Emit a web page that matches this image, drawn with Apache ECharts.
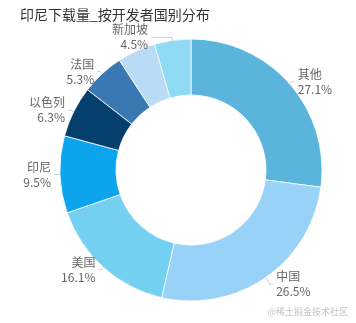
<!DOCTYPE html>
<html>
<head>
<meta charset="utf-8">
<script src="https://cdn.jsdelivr.net/npm/echarts@6/dist/echarts.min.js"></script>
<style>
  html, body { margin: 0; padding: 0; background: #fff; }
  #chart { width: 356px; height: 323px; }
</style>
</head>
<body>
<div id="chart"></div>
<script>
// Share of downloads in Indonesia by developer country (percent)
const countries = ['其他', '中国', '美国', '印尼', '以色列', '法国', '', '新加坡'];
const shares = [27.1, 26.5, 16.1, 9.5, 6.3, 5.3, 4.7, 4.5];
const colors = ['#5AB4DC', '#98D2F6', '#74D0F1', '#0CA4EC', '#053F6E', '#3A78B4', '#B9DBF5', '#8FDBF3'];

// a few labels get a longer leader line so they sit clear of their neighbours
const leaderOverrides = {
  '新加坡': { length2: 21 },
  '中国': { length: 8 }
};

const chart = echarts.init(document.getElementById('chart'), null, { renderer: 'canvas' });

const data = countries.map((name, i) => {
  const item = { name: name, value: shares[i], itemStyle: { color: colors[i] } };
  if (!name) {
    // the unnamed slice carries no label
    item.label = { show: false };
    item.labelLine = { show: false };
  }
  if (leaderOverrides[name]) {
    item.labelLine = leaderOverrides[name];
  }
  return item;
});

chart.setOption({
  animation: false,
  title: {
    text: '印尼下载量_按开发者国别分布',
    left: 15,
    top: 3,
    textStyle: { fontSize: 14, fontWeight: 'normal', color: '#333', fontFamily: 'Noto Sans CJK SC' }
  },
  graphic: [{
    type: 'text',
    right: 8,
    bottom: 7,
    style: { text: '@稀土掘金技术社区', fill: '#c4c4c4', fontSize: 9, fontFamily: 'Noto Sans CJK SC' }
  }],
  series: [{
    type: 'pie',
    center: [191, 170],
    radius: [75, 131],
    startAngle: 90,
    clockwise: true,
    avoidLabelOverlap: true,
    itemStyle: { borderColor: '#fff', borderWidth: 0.8 },
    label: {
      show: true,
      formatter: p => p.name + '\n' + p.value.toFixed(1) + '%',
      color: '#666',
      fontSize: 12,
      lineHeight: 15,
      distanceToLabelLine: 3,
      fontFamily: 'Noto Sans CJK SC'
    },
    labelLine: {
      show: true,
      length: 3,
      length2: 3,
      lineStyle: { color: '#ccc', width: 1 }
    },
    data: data
  }]
});
</script>
</body>
</html>
